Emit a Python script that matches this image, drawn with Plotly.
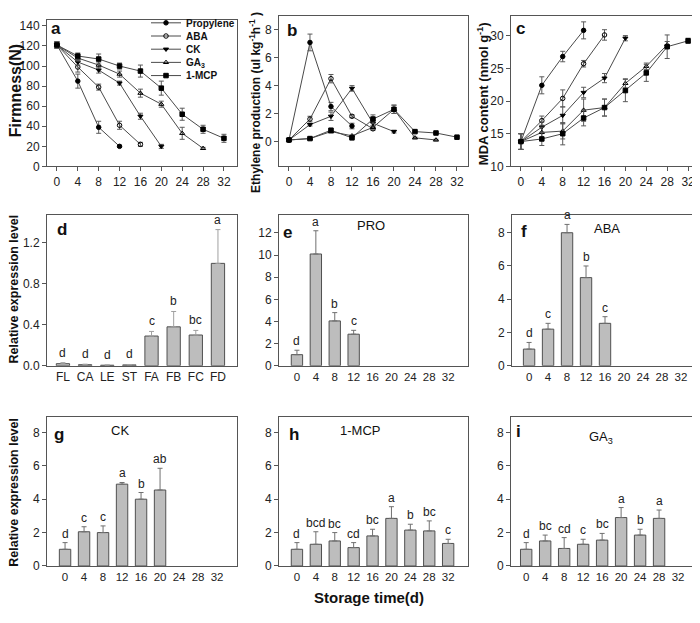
import plotly.graph_objects as go

# page body adds an 8px margin; figure coordinates are shifted accordingly
OFF = 8
FW, FH = 692, 607
FONT = "Liberation Sans, Arial, sans-serif"

# ---------------- data ----------------
days = [0, 4, 8, 12, 16, 20, 24, 28, 32]
treat_names = ["Propylene", "ABA", "CK", "GA<sub>3</sub>", "1-MCP"]

# Panel a: firmness (N)
firm_prop = [121, 85, 39, 20]
firm_prop_err = [3, 7, 6, 1]
firm_aba = [121, 99, 79, 41, 22]
firm_aba_err = [3, 5, 3, 4, 2]
firm_ck = [121, 104, 96, 83, 50, 20]
firm_ck_err = [3, 3, 3, 2, 3, 2]
firm_ga = [121, 108, 101, 92, 73, 62, 33, 18]
firm_ga_err = [3, 3, 3, 3, 4, 3, 6, 1]
firm_mcp = [121, 110, 107, 100, 95, 78, 52, 37, 28]
firm_mcp_err = [3, 3, 5, 3, 6, 7, 6, 4, 4]

# Panel b: ethylene production
eth_prop = [0.1, 7.1, 2.5, 1.1]
eth_prop_err = [0.05, 0.6, 0.3, 0.2]
eth_aba = [0.1, 1.6, 4.5, 1.8, 0.9]
eth_aba_err = [0.05, 0.2, 0.3, 0.1, 0.1]
eth_ck = [0.1, 1.2, 1.8, 3.8, 1.3, 0.7]
eth_ck_err = [0.05, 0.1, 0.3, 0.2, 0.2, 0.1]
eth_ga = [0.1, 0.2, 0.7, 0.4, 1.0, 2.3, 0.25, 0.1]
eth_ga_err = [0.05, 0.05, 0.1, 0.05, 0.1, 0.3, 0.05, 0.05]
eth_mcp = [0.1, 0.2, 0.8, 0.25, 1.6, 2.3, 0.7, 0.6, 0.3]
eth_mcp_err = [0.05, 0.05, 0.1, 0.05, 0.3, 0.3, 0.05, 0.05, 0.05]

# Panel c: MDA content
mda_prop = [13.8, 22.4, 26.8, 30.8]
mda_prop_err = [1.2, 1.3, 0.8, 1.3]
mda_aba = [13.8, 17.0, 20.4, 25.7, 30.1]
mda_aba_err = [1.2, 0.7, 1.3, 0.5, 0.8]
mda_ck = [13.8, 16.0, 17.8, 21.3, 23.5, 29.6]
mda_ck_err = [1.2, 0.8, 1.3, 0.8, 0.7, 0.4]
mda_ga = [13.8, 15.2, 15.4, 18.6, 19.0, 22.7, 25.3, 28.6]
mda_ga_err = [1.2, 0.8, 1.2, 1.7, 1.3, 0.7, 0.5, 0.5]
mda_mcp = [13.8, 14.2, 15.0, 17.4, 19.0, 21.6, 24.3, 28.3, 29.2]
mda_mcp_err = [1.2, 1.0, 1.7, 1.2, 1.3, 1.7, 1.3, 1.8, 0.4]

# Panel d: tissues
tissues = ["FL", "CA", "LE", "ST", "FA", "FB", "FC", "FD"]
tissue_expr = [0.02, 0.01, 0.005, 0.008, 0.29, 0.38, 0.30, 1.0]
tissue_err = [0.01, 0.005, 0.003, 0.004, 0.045, 0.15, 0.045, 0.33]
tissue_letters = ["d", "d", "d", "d", "c", "b", "bc", "a"]

# Panels e-i: expression over storage time
pro_expr = [1.0, 10.1, 4.05, 2.85]
pro_err = [0.4, 2.1, 0.75, 0.35]
pro_letters = ["d", "a", "b", "c"]

aba_expr = [1.0, 2.2, 8.0, 5.3, 2.55]
aba_err = [0.4, 0.35, 0.5, 0.7, 0.4]
aba_letters = ["d", "c", "a", "b", "c"]

ck_expr = [1.0, 2.05, 2.0, 4.9, 4.0, 4.55]
ck_err = [0.4, 0.3, 0.4, 0.1, 0.4, 1.3]
ck_letters = ["d", "c", "c", "a", "b", "ab"]

mcp_expr = [1.0, 1.3, 1.5, 1.1, 1.8, 2.85, 2.15, 2.1, 1.35]
mcp_err = [0.4, 0.75, 0.5, 0.3, 0.4, 0.7, 0.35, 0.6, 0.25]
mcp_letters = ["d", "bcd", "bc", "cd", "bc", "a", "b", "bc", "c"]

ga_expr = [1.0, 1.5, 1.05, 1.3, 1.55, 2.9, 1.85, 2.85]
ga_err = [0.4, 0.35, 0.65, 0.3, 0.4, 0.6, 0.35, 0.5]
ga_letters = ["d", "bc", "cd", "c", "bc", "a", "b", "a"]

# ---------------- styling ----------------
symbols = ["circle", "circle-open", "triangle-down", "triangle-up-open", "square"]
LINE_C = "#4a4a4a"
ERR_C = "#5a5a5a"
BAR_FILL = "#bdbdbd"
BAR_LINE = "#505050"


def px_x(p):
    return (p - OFF) / FW


def px_y(p):
    return 1 - (p - OFF) / FH


# panel boxes in screen pixels: (left, right, top, bottom)
boxes = {
    1: (47, 237, 13, 163),
    2: (279, 468, 9, 163),
    3: (511, 698, 9, 163),
    4: (47, 237, 213, 367),
    5: (279, 468, 213, 367),
    6: (512, 698, 213, 367),
    7: (47, 237, 419, 572),
    8: (279, 468, 419, 572),
    9: (511, 698, 419, 572),
}

fig = go.Figure()

line_sets = [
    (1, [(firm_prop, firm_prop_err), (firm_aba, firm_aba_err), (firm_ck, firm_ck_err),
         (firm_ga, firm_ga_err), (firm_mcp, firm_mcp_err)]),
    (2, [(eth_prop, eth_prop_err), (eth_aba, eth_aba_err), (eth_ck, eth_ck_err),
         (eth_ga, eth_ga_err), (eth_mcp, eth_mcp_err)]),
    (3, [(mda_prop, mda_prop_err), (mda_aba, mda_aba_err), (mda_ck, mda_ck_err),
         (mda_ga, mda_ga_err), (mda_mcp, mda_mcp_err)]),
]

legend_names = ["legend", "legend2", "legend3", "legend4", "legend5"]

for k, series in line_sets:
    xa = "x" if k == 1 else f"x{k}"
    ya = "y" if k == 1 else f"y{k}"
    for i, (vals, errs) in enumerate(series):
        fig.add_trace(go.Scatter(
            x=days[:len(vals)], y=vals,
            mode="lines+markers",
            name=treat_names[i],
            line=dict(color=LINE_C, width=1),
            marker=dict(symbol=symbols[i], size=4.5, color="black",
                        line=dict(color="black", width=1)),
            error_y=dict(type="data", array=errs, color=ERR_C, thickness=1, width=2.5),
            xaxis=xa, yaxis=ya,
            showlegend=(k == 1),
            legend=legend_names[i],
        ))

fig.add_trace(go.Bar(
    x=tissues, y=tissue_expr, width=0.6,
    marker=dict(color=BAR_FILL, line=dict(color=BAR_LINE, width=1)),
    error_y=dict(type="data", symmetric=False, array=tissue_err,
                 arrayminus=[0] * len(tissue_err), color="#a0a0a0", thickness=1, width=2.5),
    xaxis="x4", yaxis="y4", showlegend=False,
))

annotations = []
for t, v, e, l in zip(tissues, tissue_expr, tissue_err, tissue_letters):
    annotations.append(dict(x=t, y=v + e, xref="x4", yref="y4", text=l, showarrow=False,
                            yanchor="bottom", yshift=1,
                            font=dict(family=FONT, size=12, color="#222")))

bar_sets = [
    (5, pro_expr, pro_err, pro_letters),
    (6, aba_expr, aba_err, aba_letters),
    (7, ck_expr, ck_err, ck_letters),
    (8, mcp_expr, mcp_err, mcp_letters),
    (9, ga_expr, ga_err, ga_letters),
]

for k, vals, errs, letters in bar_sets:
    fig.add_trace(go.Bar(
        x=days[:len(vals)], y=vals, width=2.4,
        marker=dict(color=BAR_FILL, line=dict(color=BAR_LINE, width=1)),
        error_y=dict(type="data", symmetric=False, array=errs,
                     arrayminus=[0] * len(errs), color="#707070", thickness=1, width=2.5),
        xaxis=f"x{k}", yaxis=f"y{k}", showlegend=False,
    ))
    for d, v, e, l in zip(days, vals, errs, letters):
        annotations.append(dict(x=d, y=v + e, xref=f"x{k}", yref=f"y{k}", text=l,
                                showarrow=False, yanchor="bottom", yshift=0,
                                font=dict(family=FONT, size=12, color="#222")))

# ---------------- axes ----------------
tickfont = dict(family=FONT, size=12, color="#222")
base_axis = dict(showline=True, linecolor="#555", linewidth=1, mirror=True,
                 ticks="outside", ticklen=4, tickcolor="#555", tickwidth=1,
                 tickfont=tickfont, showgrid=False, zeroline=False)

x_ranges = {
    1: [-1.9, 34.5], 2: [-1.9, 34.1], 3: [-1.9, 33.9],
    4: [-0.72, 7.86], 5: [-3.8, 36.2], 6: [-3.6, 35.6],
    7: [-3.8, 36.2], 8: [-3.8, 36.2], 9: [-3.2, 36.2],
}
y_ranges = {
    1: [0, 146], 2: [-1.8, 9.0], 3: [10, 33],
    4: [0, 1.47], 5: [0, 13.6], 6: [0, 9.05],
    7: [0, 8.95], 8: [0, 8.95], 9: [0, 8.95],
}
y_ticks = {
    1: list(range(0, 141, 20)), 2: [0, 2, 4, 6, 8], 3: [10, 15, 20, 25, 30],
    4: [0.0, 0.4, 0.8, 1.2], 5: list(range(0, 13, 2)), 6: [0, 2, 4, 6, 8],
    7: [0, 2, 4, 6, 8], 8: [0, 2, 4, 6, 8], 9: [0, 2, 4, 6, 8],
}

layout_axes = {}
for k, (l, r, t, b) in boxes.items():
    xname = "xaxis" if k == 1 else f"xaxis{k}"
    yname = "yaxis" if k == 1 else f"yaxis{k}"
    yref_name = "y" if k == 1 else f"y{k}"
    xref_name = "x" if k == 1 else f"x{k}"
    xa = dict(base_axis, domain=[px_x(l), px_x(r)], range=x_ranges[k], anchor=yref_name)
    if k == 4:
        xa.update(type="category", ticks="")
    elif k <= 3:
        xa.update(tickvals=days)
    else:
        xa.update(tickvals=days, ticks="",
                  tickfont=dict(family=FONT, size=11.5, color="#222"))
    ya = dict(base_axis, domain=[px_y(b), px_y(t)], range=y_ranges[k], anchor=xref_name,
              tickvals=y_ticks[k])
    if k == 4:
        ya.update(tickformat=".1f")
    layout_axes[xname] = xa
    layout_axes[yname] = ya


# ---------------- text annotations ----------------
def paper_text(x, y, text, size, bold=False, angle=0, xanchor="center", yanchor="middle"):
    return dict(x=px_x(x), y=px_y(y), xref="paper", yref="paper",
                text=f"<b>{text}</b>" if bold else text,
                showarrow=False, textangle=angle, xanchor=xanchor, yanchor=yanchor,
                font=dict(family=FONT, size=size, color="#111"))


panel_letters = [("a", 56, 22), ("b", 292, 24), ("c", 520, 22),
                 ("d", 62, 228), ("e", 287, 231), ("f", 524, 230),
                 ("g", 59, 437), ("h", 294, 437), ("i", 518, 434)]
for t, x, y in panel_letters:
    annotations.append(paper_text(x, y, t, 17, bold=True))

panel_titles = [("PRO", 371, 223), ("ABA", 607, 227), ("CK", 120, 433),
                ("1-MCP", 360, 433), ("GA<sub>3</sub>", 601, 440)]
for t, x, y in panel_titles:
    annotations.append(paper_text(x, y, t, 13))

annotations.append(paper_text(15, 86, "Firmness(N)", 16, bold=True, angle=-90))
annotations.append(paper_text(255, 97, "Ethylene production (ul kg<sup>-1</sup>h<sup>-1</sup> )", 12, bold=True, angle=-90))
annotations.append(paper_text(483, 89, "MDA content (nmol g<sup>-1</sup>)", 13, bold=True, angle=-90))
annotations.append(paper_text(14, 289, "Relative expression level", 12.5, bold=True, angle=-90))
annotations.append(paper_text(14, 497, "Relative expression level", 12.5, bold=True, angle=-90))
annotations.append(paper_text(369, 604, "Storage time(d)", 15, bold=True))

# ---------------- legends (one per entry for tight spacing) ----------------
legend_rows = [16, 29.5, 43, 56.5, 70]
legend_layout = {}
for name, yc in zip(legend_names, legend_rows):
    legend_layout[name] = dict(
        x=px_x(146), y=px_y(yc), xanchor="left", yanchor="middle",
        bgcolor="rgba(0,0,0,0)", borderwidth=0, itemwidth=30,
        font=dict(family=FONT, size=10, color="#111", weight="bold"),
    )

fig.update_layout(
    width=FW, height=FH,
    margin=dict(l=0, r=0, t=0, b=0),
    paper_bgcolor="white", plot_bgcolor="white",
    font=dict(family=FONT, size=12, color="#222"),
    annotations=annotations,
    bargap=0.4,
    **layout_axes,
    **legend_layout,
)

fig.write_html("out.html")
